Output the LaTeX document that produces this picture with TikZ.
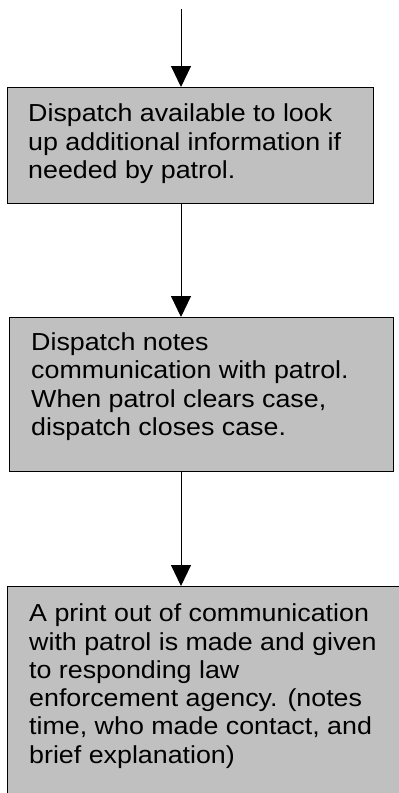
\documentclass[tikz,border=0pt]{standalone}
\usepackage{fontspec}
\setmainfont{Liberation Sans}
\usetikzlibrary{arrows.meta,calc}
\definecolor{boxgray}{RGB}{192,192,192}
\newcommand{\boxlines}[1]{\scalebox{1.09}[1]{\begin{tabular}[t]{@{}l@{}}#1\end{tabular}}}

\tikzset{
	flowbox/.style={draw=black, line width=1.3pt, fill=boxgray, rectangle, inner sep=0pt, anchor=north west},
	flowtext/.style={inner sep=0pt, anchor=base west, font=\fontsize{24.6}{28.3}\selectfont},
	flowarrow/.style={line width=1pt, -{Triangle[width=20pt,length=21pt]}}
}

\begin{document}
\begin{tikzpicture}[x=1pt, y=-1pt]
			%%%%% START %%%%%
			
			\useasboundingbox (0, 0) rectangle (399, 793);
			\clip (0, 0) rectangle (399, 793);
			
			\coordinate (top) at (181, 9);
			
			\node[flowbox, minimum width=366, minimum height=116] (check) at (7, 87) {};
			\node[flowtext] (checktext) at ($(check.north west)+(21, 34.7)$) {\boxlines{Dispatch available to look\\up additional information if\\needed by patrol.}};
			
			\node[flowbox, minimum width=384, minimum height=154] (notes) at (9, 317) {};
			\node[flowtext] (notestext) at ($(notes.north west)+(22, 33.5)$) {\boxlines{Dispatch notes\\communication with patrol.\\When patrol clears case,\\dispatch closes case.}};
			
			\node[flowbox, minimum width=420, minimum height=230] (print) at (7, 586) {};
			\node[flowtext] (printtext) at ($(print.north west)+(22, 35.7)$) {\boxlines{A print out of communication\\with patrol is made and given\\to responding law\\enforcement agency. (notes\\time, who made contact, and\\brief explanation)}};
			
			\draw[flowarrow] (top) -- (check.north -| top);
			\draw[flowarrow] (check.south -| top) -- (notes.north -| top);
			\draw[flowarrow] (notes.south -| top) -- (print.north -| top);
			
			%%%%% END %%%%%
\end{tikzpicture}
\end{document}
